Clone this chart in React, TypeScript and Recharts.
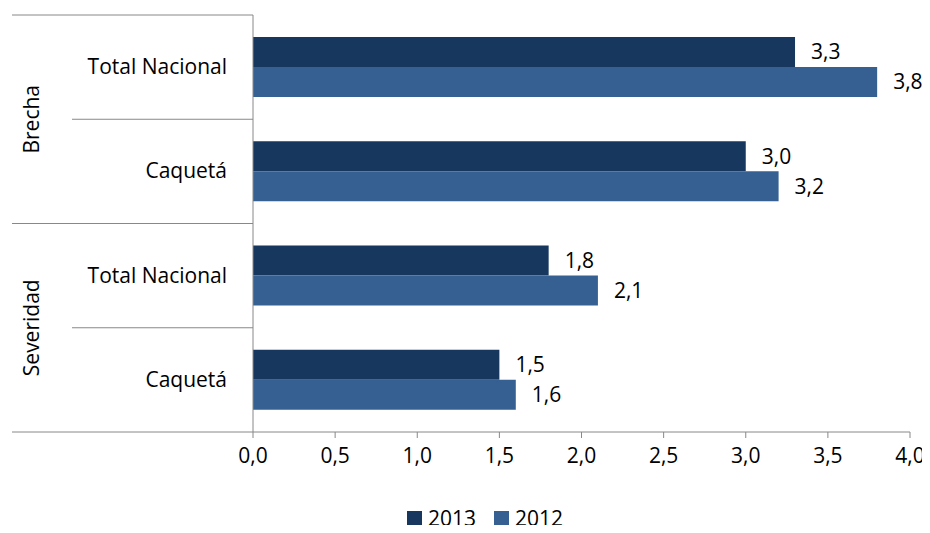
import React from "react";
import { BarChart, Bar, XAxis, YAxis, Legend, LabelList } from "recharts";

const categories = ["Total Nacional", "Caquetá", "Total Nacional", "Caquetá"];
const groups = ["Brecha", "Brecha", "Severidad", "Severidad"];
const values2013 = [3.3, 3.0, 1.8, 1.5];
const values2012 = [3.8, 3.2, 2.1, 1.6];
const xTicks = [0, 0.5, 1, 1.5, 2, 2.5, 3, 3.5, 4];
const seriesNames = ["2013", "2012"];
const seriesColors = ["#17375E", "#376092"];

const data = categories.map((c, i) => ({
    id: `${groups[i]}-${i}`,
    name: c,
    group: groups[i],
    y2013: values2013[i],
    y2012: values2012[i],
}));

const FONT = "'Open Sans', sans-serif";
const FS = 21;
const TOP = 15;
const PLOT_H = 417;
const HALF = PLOT_H / categories.length / 2;

const comma = (v: any) => Number(v).toFixed(1).replace(".", ",");

const CategoryTick = ({ x, y, index }: any) => {
    const d = data[index];
    const axisX = x + 8;
    const firstInGroup = index === 0 || data[index - 1].group !== d.group;
    const last = index === data.length - 1;
    return (
        <g>
            <text x={axisX - 26} y={y} dy={7} textAnchor="end" fontSize={FS} fontFamily={FONT} fill="#000">
                {d.name}
            </text>
            <line x1={firstInGroup ? 12 : 72} x2={axisX} y1={y - HALF} y2={y - HALF} stroke="#888" />
            {last && <line x1={12} x2={axisX} y1={y + HALF} y2={y + HALF} stroke="#888" />}
            {firstInGroup && (
                <text
                    x={39}
                    y={y + HALF}
                    transform={`rotate(-90 39 ${y + HALF})`}
                    textAnchor="middle"
                    fontSize={FS}
                    fontFamily={FONT}
                    fill="#000"
                >
                    {d.group}
                </text>
            )}
        </g>
    );
};

const LegendContent = () => (
    <div style={{ display: "flex", justifyContent: "center", gap: 18, paddingLeft: 60 }}>
        {seriesNames.map((n, i) => (
            <span key={n} style={{ display: "flex", alignItems: "center", fontFamily: FONT, fontSize: FS }}>
                <span style={{ width: 15, height: 15, background: seriesColors[i], marginRight: 6, display: "inline-block" }} />
                {n}
            </span>
        ))}
    </div>
);

export default function App() {
    return (
        <div style={{ margin: -8 }}>
            <BarChart
                width={930}
                height={533}
                data={data}
                layout="vertical"
                margin={{ top: TOP, right: 20, left: 0, bottom: 0 }}
                barGap={0}
                barSize={30}
            >
                <XAxis
                    type="number"
                    domain={[0, 4]}
                    ticks={xTicks}
                    tickFormatter={comma}
                    axisLine={{ stroke: "#888" }}
                    tickLine={{ stroke: "#888" }}
                    tickSize={6}
                    tick={{ fontSize: FS, fontFamily: FONT, fill: "#000", dy: 8 }}
                    height={72}
                />
                <YAxis
                    type="category"
                    dataKey="id"
                    width={253}
                    axisLine={{ stroke: "#888" }}
                    tickLine={false}
                    tick={<CategoryTick />}
                    interval={0}
                />
                <Legend verticalAlign="bottom" height={29} content={<LegendContent />} />
                <Bar dataKey="y2013" name="2013" fill={seriesColors[0]} isAnimationActive={false}>
                    <LabelList dataKey="y2013" position="right" offset={16} formatter={comma} fill="#000" fontSize={FS} fontFamily={FONT} />
                </Bar>
                <Bar dataKey="y2012" name="2012" fill={seriesColors[1]} isAnimationActive={false}>
                    <LabelList dataKey="y2012" position="right" offset={16} formatter={comma} fill="#000" fontSize={FS} fontFamily={FONT} />
                </Bar>
            </BarChart>
        </div>
    );
}
